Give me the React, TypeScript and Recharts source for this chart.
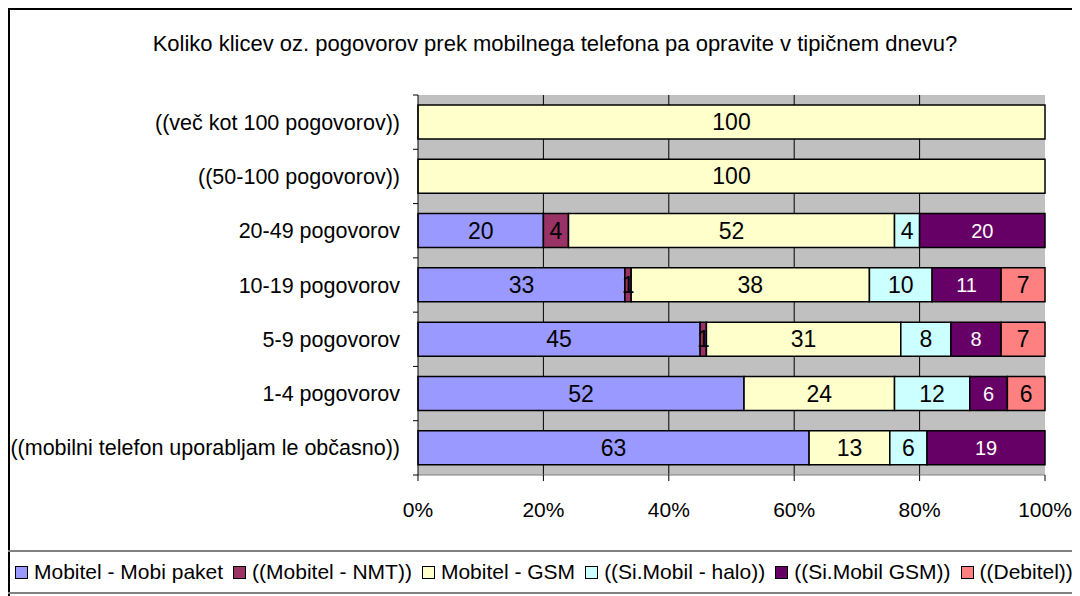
import { BarChart, Bar, XAxis, YAxis, CartesianGrid, LabelList } from "recharts";

const categories = [
  "((več kot 100 pogovorov))",
  "((50-100 pogovorov))",
  "20-49 pogovorov",
  "10-19 pogovorov",
  "5-9 pogovorov",
  "1-4 pogovorov",
  "((mobilni telefon uporabljam le občasno))",
];

const mobiPaket = [0, 0, 20, 33, 45, 52, 63];
const mobitelNmt = [0, 0, 4, 1, 1, 0, 0];
const mobitelGsm = [100, 100, 52, 38, 31, 24, 13];
const siMobilHalo = [0, 0, 4, 10, 8, 12, 6];
const siMobilGsm = [0, 0, 20, 11, 8, 6, 19];
const debitel = [0, 0, 0, 7, 7, 6, 0];

const xTicks = [0, 0.2, 0.4, 0.6, 0.8, 1];

const series = [
  { key: "mobi", name: "Mobitel - Mobi paket", values: mobiPaket, color: "#9999FF", text: "#000" },
  { key: "nmt", name: "((Mobitel - NMT))", values: mobitelNmt, color: "#993366", text: "#000" },
  { key: "gsm", name: "Mobitel - GSM", values: mobitelGsm, color: "#FFFFCC", text: "#000" },
  { key: "halo", name: "((Si.Mobil - halo))", values: siMobilHalo, color: "#CCFFFF", text: "#000" },
  { key: "sigsm", name: "((Si.Mobil GSM))", values: siMobilGsm, color: "#660066", text: "#fff" },
  { key: "debitel", name: "((Debitel))", values: debitel, color: "#FF8080", text: "#000" },
];

const data = categories.map((cat, i) => {
  const row: any = { cat };
  series.forEach((s) => (row[s.key] = s.values[i]));
  return row;
});

const FONT = "'Liberation Sans', Arial, sans-serif";

// chart geometry
const W = 1072;
const H = 540;
const M = { top: 87, right: 35, left: 0, bottom: 33 };
const X_AXIS_H = 40;
const Y_AXIS_W = 410;
const BAND = (H - M.top - M.bottom - X_AXIS_H) / categories.length;

// category ticks sit between the rows, like in Excel
const CategoryTick = ({ x, y, payload, index }: any) => (
  <g>
    <line x1={Y_AXIS_W - 5} x2={Y_AXIS_W} y1={y - BAND / 2} y2={y - BAND / 2} stroke="#000" />
    {index === categories.length - 1 && (
      <line x1={Y_AXIS_W - 5} x2={Y_AXIS_W} y1={y + BAND / 2} y2={y + BAND / 2} stroke="#000" />
    )}
    <text x={x} y={y} dy="0.355em" textAnchor="end" fill="#000" fontSize={21.5} fontFamily={FONT}>
      {payload.value}
    </text>
  </g>
);

export default function App() {
  return (
    <div style={{ width: 1072, height: 588, overflow: "hidden", position: "relative", fontFamily: FONT }}>
      <div
        style={{
          position: "absolute",
          left: 0,
          top: 0,
          width: 1090,
          height: 600,
          borderTop: "2px solid #000",
          borderLeft: "2px solid #000",
          boxSizing: "border-box",
        }}
      />
      <div
        style={{
          position: "absolute",
          left: 0,
          width: 1094,
          top: 23,
          textAlign: "center",
          fontSize: 22,
          lineHeight: "26px",
          color: "#000",
        }}
      >
        Koliko klicev oz. pogovorov prek mobilnega telefona pa opravite v tipičnem dnevu?
      </div>
      <div style={{ position: "absolute", left: 0, top: 0 }}>
        <BarChart
          width={W}
          height={H}
          data={data}
          layout="vertical"
          stackOffset="expand"
          barSize={34}
          margin={M}
        >
          <CartesianGrid
            horizontal={false}
            fill="#c0c0c0"
            stroke="#000"
            verticalCoordinatesGenerator={({ offset }: any) =>
              [0.2, 0.4, 0.6, 0.8].map((v) => offset.left + offset.width * v)
            }
          />
          <XAxis
            type="number"
            domain={[0, 1]}
            ticks={xTicks}
            tickFormatter={(v) => `${Math.round(v * 100)}%`}
            axisLine={{ stroke: "#808080" }}
            tickLine={{ stroke: "#000" }}
            tickSize={6}
            tickMargin={21}
            height={X_AXIS_H}
            tick={{ fill: "#000", fontSize: 21, fontFamily: FONT }}
            interval={0}
          />
          <YAxis
            type="category"
            dataKey="cat"
            width={Y_AXIS_W}
            axisLine={{ stroke: "#000" }}
            tickLine={false}
            tickSize={8}
            tickMargin={10}
            tick={<CategoryTick />}
            interval={0}
          />
          {series.map((s) => (
            <Bar
              key={s.key}
              dataKey={s.key}
              name={s.name}
              stackId="a"
              fill={s.color}
              stroke="#000"
              strokeWidth={1.5}
              isAnimationActive={false}
            >
              <LabelList
                dataKey={s.key}
                position="center"
                formatter={(v: any) => (v ? v : "")}
                fill={s.text}
                style={{ fontSize: s.text === "#fff" ? 20 : 23, fontFamily: FONT }}
              />
            </Bar>
          ))}
        </BarChart>
      </div>
      <div
        style={{
          position: "absolute",
          left: 0,
          top: 542,
          width: 1090,
          height: 44,
          borderTop: "2px solid #808080",
          borderBottom: "2px solid #808080",
          boxSizing: "border-box",
          display: "flex",
          alignItems: "center",
          paddingLeft: 7,
          fontSize: 21,
          whiteSpace: "nowrap",
        }}
      >
        {series.map((s) => (
          <span key={s.key} style={{ display: "inline-flex", alignItems: "center", marginRight: 10 }}>
            <span
              style={{
                display: "inline-block",
                width: 11,
                height: 11,
                background: s.color,
                border: "1.5px solid #000",
                marginRight: 6,
              }}
            />
            {s.name}
          </span>
        ))}
      </div>
    </div>
  );
}
